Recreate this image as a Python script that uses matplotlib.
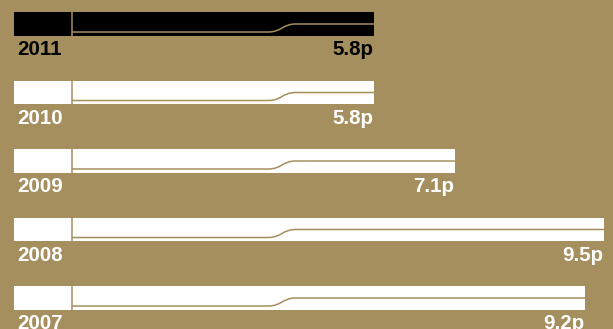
import matplotlib
matplotlib.use("Agg")
import matplotlib.pyplot as plt
from matplotlib.path import Path
from matplotlib.patches import PathPatch

BG = "#a58f5f"

years = ["2011", "2010", "2009", "2008", "2007"]
values = [5.8, 5.8, 7.1, 9.5, 9.2]
value_labels = ["5.8p", "5.8p", "7.1p", "9.5p", "9.2p"]
bar_colors = ["#000000", "#ffffff", "#ffffff", "#ffffff", "#ffffff"]
text_colors = ["#000000", "#ffffff", "#ffffff", "#ffffff", "#ffffff"]

# inner guide line: divider, then a step up between two points
DIVIDER = 0.93
STEP_START = 4.09
STEP_END = 4.54

BAR_H = 0.35
LOW = 0.117  # inner line offset below bar centre

plt.rcParams["font.family"] = ["Liberation Sans", "DejaVu Sans"]

fig = plt.figure(figsize=(6.13, 3.29), dpi=100, facecolor=BG)
ax = fig.add_axes([0, 0, 1, 1], facecolor=BG)

for i, (yr, v, lab, bc, tc) in enumerate(zip(years, values, value_labels, bar_colors, text_colors)):
    ax.barh(i, v, height=BAR_H, left=0, color=bc, edgecolor="none")
    # divider
    ax.plot([DIVIDER, DIVIDER], [i - BAR_H / 2, i + BAR_H / 2], color=BG, lw=1.1,
            solid_capstyle="butt")
    # stepped line
    verts = [(DIVIDER, i + LOW), (STEP_START, i + LOW),
             ((STEP_START + STEP_END) / 2, i + LOW), ((STEP_START + STEP_END) / 2, i),
             (STEP_END, i), (v, i)]
    codes = [Path.MOVETO, Path.LINETO, Path.CURVE4, Path.CURVE4, Path.CURVE4, Path.LINETO]
    ax.add_patch(PathPatch(Path(verts, codes), facecolor="none", edgecolor=BG, lw=1.1))

    ax.annotate(yr, xy=(0, i + BAR_H / 2), xytext=(2.2, -14), textcoords="offset points",
                ha="left", va="baseline", fontsize=14.8, fontweight="bold", color=tc)
    ax.annotate(lab, xy=(v, i + BAR_H / 2), xytext=(-0.7, -14), textcoords="offset points",
                ha="right", va="baseline", fontsize=14.8, fontweight="bold", color=tc)

ax.set_xlim(-14 / 62.1, 599 / 62.1)
ax.set_ylim(305 / 68.5, -24 / 68.5)
ax.axis("off")

fig.savefig("out.png", dpi=100, facecolor=BG)
